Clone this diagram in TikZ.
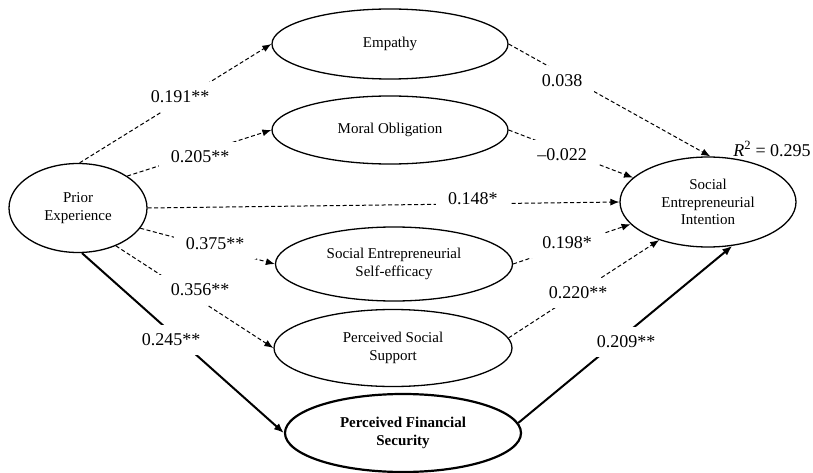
\documentclass[tikz,border=0pt]{standalone}
\usepackage{fontspec}
\setmainfont{Liberation Serif}
\usetikzlibrary{shapes.geometric,arrows.meta}
\begin{document}
\begin{tikzpicture}[x=1pt,y=-1pt,
  lat/.style={ellipse, draw, line width=1.3pt, inner sep=0pt, align=center,
    font=\fontsize{15}{17.5}\selectfont},
  dpath/.style={dash pattern=on 4pt off 2.5pt, line width=1pt,
    -{Latex[length=9pt,width=7pt]}},
  spath/.style={line width=2pt, -{Latex[length=10pt,width=8pt]}},
  coef/.style={fill=white, inner xsep=12pt, inner ysep=9pt,
    font=\fontsize{18}{20}\selectfont}]
\useasboundingbox (0,0) rectangle (813,473);

\node[lat, minimum width=138pt, minimum height=89pt] (pe) at (78,208) {Prior\\Experience};
\node[lat, minimum width=236pt, minimum height=70pt] (emp) at (390,44) {Empathy};
\node[lat, minimum width=236pt, minimum height=68pt] (mor) at (390,130) {Moral Obligation};
\node[lat, minimum width=237pt, minimum height=74pt] (ses) at (394,264) {Social Entrepreneurial\\Self-efficacy};
\node[lat, minimum width=238pt, minimum height=77pt] (pss) at (393,348) {Perceived Social\\Support};
\node[lat, line width=2.2pt, minimum width=236pt, minimum height=78pt,
  font=\fontsize{15}{17.5}\selectfont\bfseries] (pfs) at (403,433) {Perceived Financial\\Security};
\node[lat, minimum width=176pt, minimum height=90pt] (sei) at (708,202) {Social\\Entrepreneurial\\Intention};

% paths from prior experience
\draw[dpath] (pe.88) -- (emp.west);
\draw[dpath] (pe.33) -- (mor.west);
\draw[dpath] (pe.east) -- (sei.west);
\draw[dpath] (pe.-18) -- (ses.west);
\draw[dpath] (pe.-45) -- (pss.west);
\draw[spath] (pe.-85) -- (pfs.west);

% paths to intention
\draw[dpath] (emp.east) -- (sei.87);
\draw[dpath] (mor.east) -- (sei.162);
\draw[dpath] (ses.east) -- (sei.196);
\draw[dpath] (pss.5) -- (sei.218);
\draw[spath] (pfs.5) -- (sei.299);

% coefficients
\node[coef] (c191) at (180,97) {0.191**};
\node[coef] (c205) at (200,157) {0.205**};
\node[coef, anchor=west] (c148) at (436,199) {0.148*\hspace{24pt}};
\node[coef] (c375) at (215,244) {0.375**};
\node[coef] (c356) at (200,290) {0.356**};
\node[coef] (c245) at (171,340) {0.245**};
\node[coef] (c038) at (562,81) {0.038};
\node[coef] (c022) at (562,155) {–0.022};
\node[coef] (c198) at (567,243) {0.198*};
\node[coef] (c220) at (578,293) {0.220**};
\node[coef] (c209) at (626,342) {0.209**};
\node[font=\fontsize{18}{20}\selectfont, inner sep=0pt] (r2) at (772,149) {\textit{R}\textsuperscript{2} = 0.295};
\end{tikzpicture}
\end{document}
